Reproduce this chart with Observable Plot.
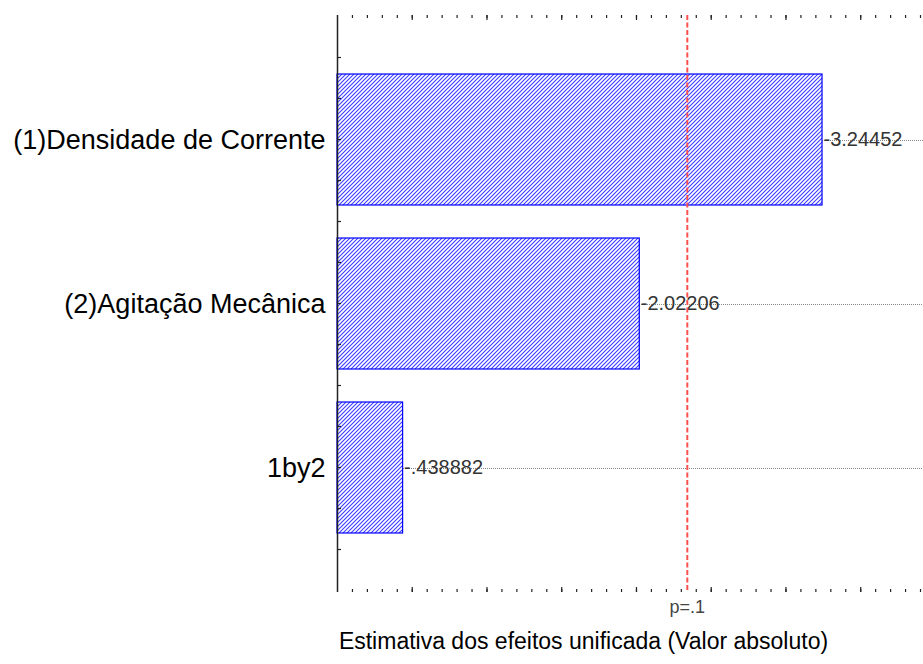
<!DOCTYPE html>
<html><head><meta charset="utf-8">
<script src="https://cdn.jsdelivr.net/npm/d3@7"></script>
<script src="https://cdn.jsdelivr.net/npm/@observablehq/plot@0.6"></script>
<style>
body{margin:0;background:#fff;}
#chart svg{font-family:"Liberation Sans",Arial,sans-serif;}
</style>
</head><body><div id="chart"></div>
<script>
const factors = ["(1)Densidade de Corrente", "(2)Agitação Mecânica", "1by2"];
const effects = [3.24452, 2.02206, 0.438882];
const effectLabels = ["-3.24452", "-2.02206", "-.438882"];
const pCritical = 2.34;
const pLabel = "p=.1";
const xLabel = "Estimativa dos efeitos unificada (Valor absoluto)";
const xMax = 3.92;
const minorTicks = d3.range(1, 40).map(i => i / 10);
const majorTicks = d3.range(1, 8).map(i => i / 2);

const data = factors.map((f, i) => ({factor: f, effect: effects[i], label: effectLabels[i]}));

const W = 923, H = 664, mT = 15, mB = 72, mL = 337;
const frameH = H - mT - mB;

const defs = () => {
  const g = d3.create("svg:defs");
  const p = g.append("pattern").attr("id", "hatchBlue").attr("patternUnits", "userSpaceOnUse")
    .attr("width", 4).attr("height", 4);
  p.append("rect").attr("width", 4).attr("height", 4).style("fill", "#ffffff");
  p.append("path").attr("d", "M-1,1 l2,-2 M0,4 l4,-4 M3,5 l2,-2")
    .style("stroke", "#3c3cff").style("stroke-width", "1.1").style("fill", "none");
  return g.node();
};

const leftTicks = (index, scales, values, dim) => {
  const g = d3.create("svg:g");
  const y = scales.y;
  const step = scales.scales.y.step;
  const q = step / 4;
  const c0 = y(factors[0]) + scales.scales.y.bandwidth / 2;
  const ys = [];
  for (let k = -2; k <= 10; k++) ys.push(c0 + k * q);
  g.selectAll("line").data(ys.filter(v => v > dim.marginTop + 1 && v < dim.height - dim.marginBottom - 1))
    .join("line").attr("x1", dim.marginLeft).attr("x2", dim.marginLeft + 4)
    .attr("y1", d => d).attr("y2", d => d).attr("stroke", "#222").attr("stroke-width", 1.2);
  return g.node();
};

const chart = Plot.plot({
  width: W, height: H,
  marginTop: mT, marginBottom: mB, marginLeft: mL, marginRight: 0,
  x: {domain: [0, xMax], axis: null},
  y: {domain: factors, paddingInner: 0.2, paddingOuter: 0.35, label: null},
  marks: [
    defs,
    Plot.axisY({tickSize: 0, tickPadding: 12, fontSize: 27, fill: "#000", label: null}),
    Plot.ruleY(data, {y: "factor", x1: "effect", x2: xMax, stroke: "#888", strokeWidth: 1, strokeDasharray: "1,1", shapeRendering: "crispEdges"}),
    Plot.barX(data, {y: "factor", x: "effect", fill: "url(#hatchBlue)", stroke: "#0000ff", strokeWidth: 1.2}),
    Plot.text(data, {y: "factor", x: "effect", text: "label", textAnchor: "start", dx: 1, fontSize: 20, fill: "#333"}),
    Plot.ruleX([pCritical], {stroke: "#ff5050", strokeWidth: 2, strokeDasharray: "5,2.5"}),
    Plot.ruleX(minorTicks, {insetTop: frameH - 3, stroke: "#222", strokeWidth: 1.2}),
    Plot.ruleX(majorTicks, {insetTop: frameH - 5, stroke: "#222", strokeWidth: 1.2}),
    Plot.ruleX(minorTicks, {insetBottom: frameH - 3, stroke: "#222", strokeWidth: 1.2}),
    Plot.ruleX(majorTicks, {insetBottom: frameH - 5, stroke: "#222", strokeWidth: 1.2}),
    leftTicks,
    Plot.ruleX([0], {stroke: "#222", strokeWidth: 1.5}),
    Plot.ruleY([0], {frameAnchor: "top", stroke: "#222", strokeWidth: 1.5}),
    Plot.text([pLabel], {x: pCritical, frameAnchor: "bottom", dy: 20, fontSize: 18, fill: "#444"}),
    Plot.text([xLabel], {frameAnchor: "bottom", dx: -47, dy: 56, fontSize: 23, fill: "#000"})
  ]
});
document.getElementById("chart").append(chart);
</script>
</body></html>
